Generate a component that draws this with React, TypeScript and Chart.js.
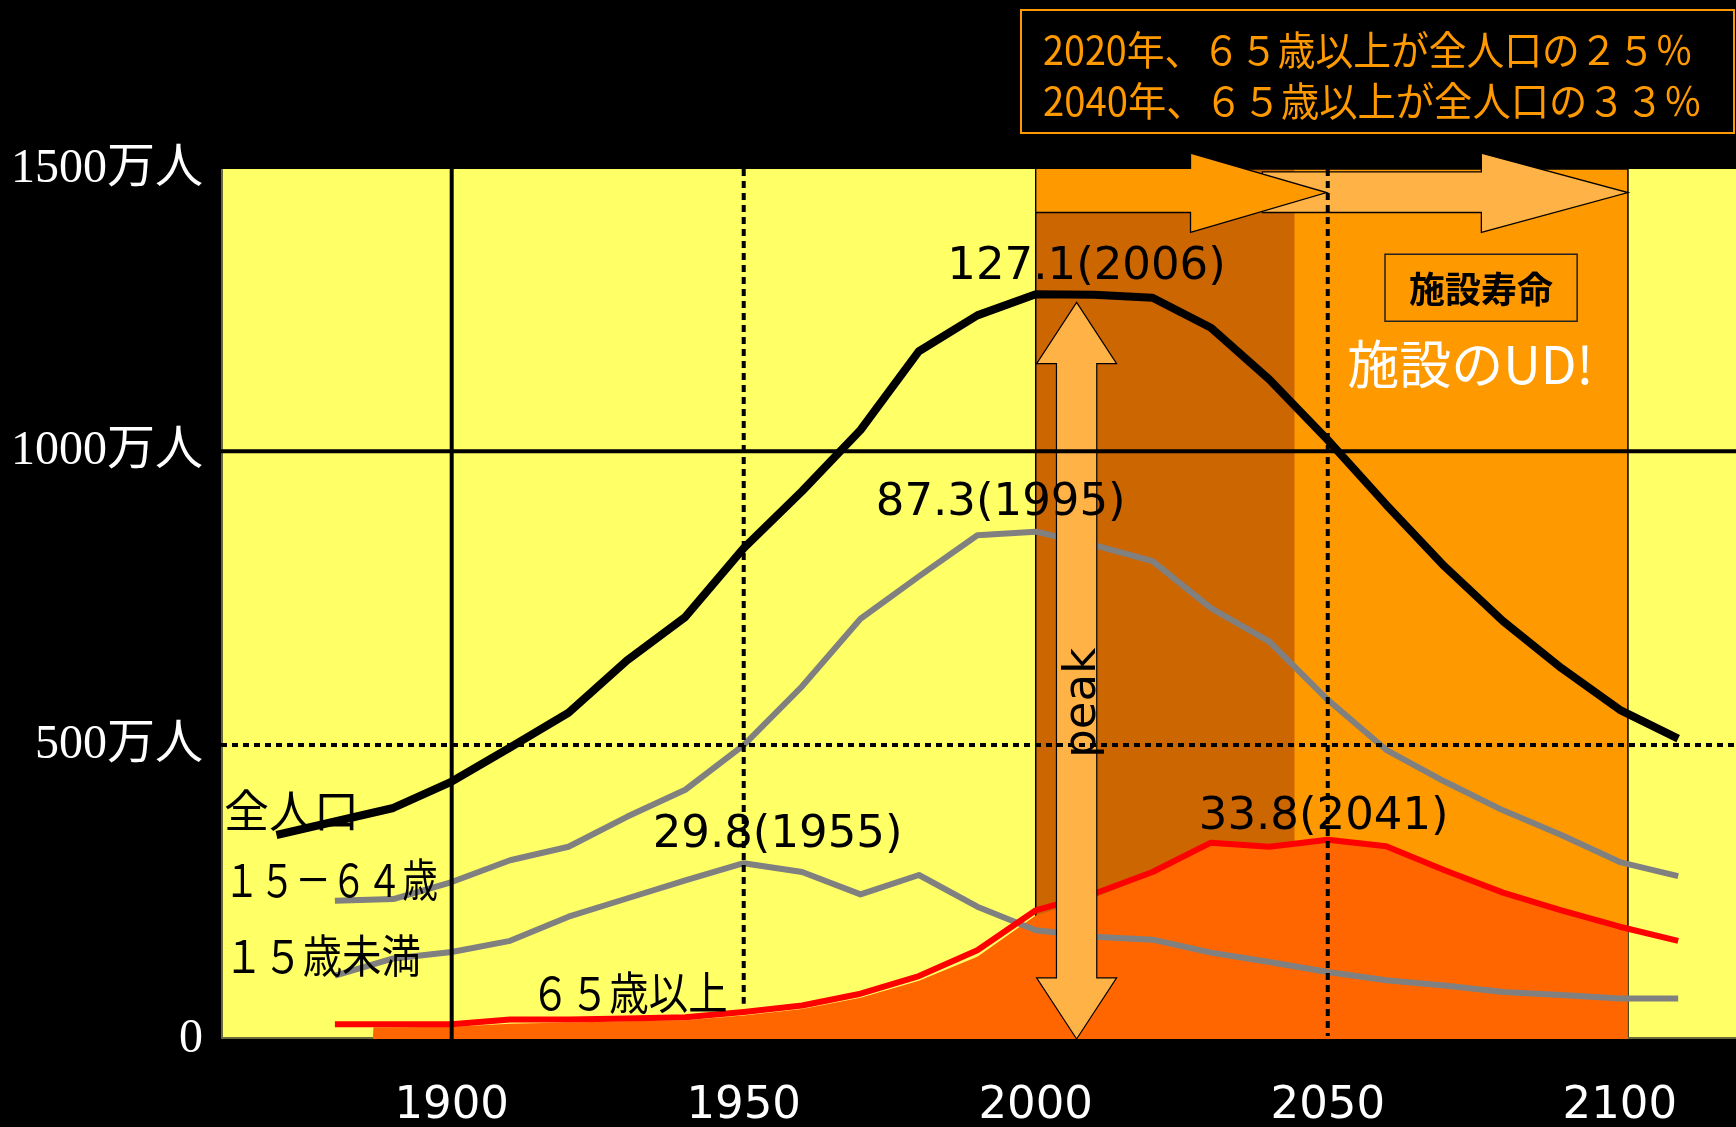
import React, { useEffect, useRef } from "react";
import { Chart, registerables } from "chart.js";

Chart.register(...registerables);

// ---------- data (units: 百万人, axis labels read as 万人 ×10) ----------
const decadeYears = [1880, 1890, 1900, 1910, 1920, 1930, 1940, 1950, 1960, 1970, 1980, 1990, 2000, 2010, 2020, 2030, 2040, 2050, 2060, 2070, 2080, 2090, 2100, 2110];
const totalYears = [1870, 1890, 1900, 1910, 1920, 1930, 1940, 1950, 1960, 1970, 1980, 1990, 2000, 2010, 2020, 2030, 2040, 2050, 2060, 2070, 2080, 2090, 2100, 2110];
const totalPopulation = [34.7, 39.3, 43.8, 49.6, 55.5, 64.4, 71.8, 83.5, 93.2, 103.6, 117.0, 123.1, 126.7, 126.6, 126.1, 121.0, 112.2, 101.9, 90.9, 80.4, 71.1, 63.1, 56.0, 51.1];
const age15to64 = [23.5, 23.8, 26.7, 30.4, 32.7, 37.8, 42.4, 50.0, 60.0, 71.5, 78.7, 85.7, 86.3, 84.0, 81.3, 73.3, 67.6, 57.7, 49.2, 43.8, 38.9, 34.7, 30.1, 27.7];
const ageUnder15 = [10.8, 13.7, 14.8, 16.7, 20.8, 23.9, 27.0, 29.9, 28.4, 24.6, 27.9, 22.5, 18.5, 17.4, 16.9, 14.7, 13.1, 11.4, 10.0, 9.1, 8.0, 7.5, 6.9, 6.9];
const age65plus = [2.5, 2.5, 2.5, 3.3, 3.3, 3.5, 3.7, 4.6, 5.7, 7.7, 10.7, 15.1, 21.9, 24.7, 28.4, 33.4, 32.7, 33.9, 32.8, 28.7, 24.9, 21.9, 19.1, 16.7];
const age65AreaYears = [1886.5, 1886.6, 1890, 1900, 1910, 1920, 1930, 1940, 1950, 1960, 1970, 1980, 1990, 2000, 2010, 2020, 2030, 2040, 2050, 2060, 2070, 2080, 2090, 2100, 2101.4];
const age65Area = [0, 2.0, 2.0, 2.1, 2.6, 2.8, 3.0, 3.2, 4.0, 5.1, 7.0, 9.9, 14.0, 21.0, 24.0, 28.0, 33.0, 32.6, 33.6, 32.6, 28.5, 24.7, 21.7, 18.9, 18.7];

const xTickValues = [1900, 1950, 2000, 2050, 2100];
const yTickValues = [0, 50, 100, 148];
const yTickLabels = ["0", "500万人", "1000万人", "1500万人"];

const X_MIN = 1860.5;
const X_MAX = 2119.9;
const Y_MAX = 148;

// annotations (data coordinates)
const facilityBand = { start: 2000, darkEnd: 2044.3, end: 2101.4 };
const gridH = [
  { value: 100, dashed: false },
  { value: 50, dashed: true },
];
const gridV = [
  { year: 1900, dashed: false, from: 0 },
  { year: 1950, dashed: true, from: 6 },
  { year: 2050, dashed: true, from: 0.5 },
];
const peakArrow = { year: 2007, bodyHalf: 3.45, headHalf: 6.85, top: 125.3, topBase: 114.9, bottomBase: 10.4, bottom: 0 };
const lifeArrows = [
  { from: 2038.8, headBase: 2076.3, tip: 2101.4, bodyTop: 147.5, bodyBottom: 140.6, headTop: 150.7, headBottom: 137.2, mid: 144.0, color: "#FFB347" },
  { from: 2000, headBase: 2026.5, tip: 2049.8, bodyTop: 148.1, bodyBottom: 140.6, headTop: 150.7, headBottom: 137.2, mid: 144.0, color: "#FF9900" },
];
const peakLabels = [
  { text: "127.1(2006)", year: 2008.7, value: 129.3 },
  { text: "87.3(1995)", year: 1994.0, value: 89.1 },
  { text: "29.8(1955)", year: 1955.8, value: 32.7 },
  { text: "33.8(2041)", year: 2049.3, value: 35.8 },
];
const seriesLabels = [
  { text: "全人口", year: 1861, value: 38.8, maxWidth: 140 },
  { text: "１５－６４歳", year: 1861, value: 27.0, maxWidth: 214 },
  { text: "１５歳未満", year: 1861, value: 14.2, maxWidth: 197 },
  { text: "６５歳以上", year: 1913.5, value: 7.9, maxWidth: 197 },
];
const peakText = { text: "peak", year: 2010.1, value: 57.2 };
const lifeBox = { text: "施設寿命", x0: 2059.8, x1: 2092.7, y0: 133.5, y1: 122.1 };
const udText = { text: "施設のUD!", year: 2074.4, value: 114.8 };
const noteLines = ["2020年、６５歳以上が全人口の２５％", "2040年、６５歳以上が全人口の３３％"];

const toXY = (xs: number[], ys: number[]) => xs.map((x, i) => ({ x, y: ys[i] }));

const decorPlugin = {
  id: "decor",
  beforeDraw(chart: any) {
    const { ctx, chartArea: a, scales } = chart;
    const x = scales.x;
    ctx.save();
    ctx.fillStyle = "#000";
    ctx.fillRect(0, 0, chart.width, chart.height);
    ctx.fillStyle = "#FFFF66";
    ctx.fillRect(a.left, a.top, a.right - a.left, a.bottom - a.top);
    const b0 = x.getPixelForValue(facilityBand.start);
    const bd = x.getPixelForValue(facilityBand.darkEnd);
    const b1 = x.getPixelForValue(facilityBand.end);
    ctx.fillStyle = "#FF9900";
    ctx.fillRect(b0, a.top, b1 - b0, a.bottom - a.top);
    ctx.fillStyle = "#CC6600";
    ctx.fillRect(b0, a.top, bd - b0, a.bottom - a.top);
    ctx.strokeStyle = "#000";
    ctx.lineWidth = 1.5;
    ctx.strokeRect(b0, a.top, b1 - b0, a.bottom - a.top);
    ctx.strokeStyle = "#6b6b3a";
    ctx.lineWidth = 2;
    ctx.beginPath();
    ctx.moveTo(a.left + 1, a.top);
    ctx.lineTo(a.left + 1, a.bottom);
    ctx.moveTo(a.left, a.bottom - 1);
    ctx.lineTo(a.right, a.bottom - 1);
    ctx.stroke();
    ctx.restore();
  },
  afterDatasetsDraw(chart: any) {
    const { ctx, chartArea: a, scales } = chart;
    const x = scales.x;
    const y = scales.y;
    const px = (v: number) => x.getPixelForValue(v);
    const py = (v: number) => y.getPixelForValue(v);
    ctx.save();

    // peak double arrow
    {
      const p = peakArrow;
      const cx = px(p.year);
      const hb = px(p.year + p.bodyHalf) - cx;
      const hh = px(p.year + p.headHalf) - cx;
      const yt = py(p.top), ytb = py(p.topBase), ybb = py(p.bottomBase), yb = py(p.bottom);
      ctx.beginPath();
      ctx.moveTo(cx, yt);
      ctx.lineTo(cx + hh, ytb);
      ctx.lineTo(cx + hb, ytb);
      ctx.lineTo(cx + hb, ybb);
      ctx.lineTo(cx + hh, ybb);
      ctx.lineTo(cx, yb);
      ctx.lineTo(cx - hh, ybb);
      ctx.lineTo(cx - hb, ybb);
      ctx.lineTo(cx - hb, ytb);
      ctx.lineTo(cx - hh, ytb);
      ctx.closePath();
      ctx.fillStyle = "#FFB347";
      ctx.fill();
      ctx.strokeStyle = "#000";
      ctx.lineWidth = 1.2;
      ctx.stroke();
    }

    // facility-life arrows
    for (const r of lifeArrows) {
      ctx.beginPath();
      ctx.moveTo(px(r.from), py(r.bodyTop));
      ctx.lineTo(px(r.headBase), py(r.bodyTop));
      ctx.lineTo(px(r.headBase), py(r.headTop));
      ctx.lineTo(px(r.tip), py(r.mid));
      ctx.lineTo(px(r.headBase), py(r.headBottom));
      ctx.lineTo(px(r.headBase), py(r.bodyBottom));
      ctx.lineTo(px(r.from), py(r.bodyBottom));
      ctx.closePath();
      ctx.fillStyle = r.color;
      ctx.fill();
      ctx.strokeStyle = "#000";
      ctx.lineWidth = 1.3;
      ctx.stroke();
    }

    // grid lines
    ctx.strokeStyle = "#000";
    ctx.lineWidth = 4;
    for (const g of gridH) {
      ctx.setLineDash(g.dashed ? [6, 5] : []);
      ctx.beginPath();
      ctx.moveTo(a.left, py(g.value));
      ctx.lineTo(a.right, py(g.value));
      ctx.stroke();
    }
    for (const g of gridV) {
      ctx.setLineDash(g.dashed ? [7, 5] : []);
      ctx.beginPath();
      ctx.moveTo(px(g.year), a.top);
      ctx.lineTo(px(g.year), py(g.from));
      ctx.stroke();
    }
    ctx.setLineDash([]);

    // value labels
    ctx.fillStyle = "#000";
    ctx.font = "45px 'DejaVu Sans'";
    ctx.textAlign = "center";
    ctx.textBaseline = "alphabetic";
    for (const l of peakLabels) ctx.fillText(l.text, px(l.year), py(l.value));

    // series labels
    ctx.font = "45px 'Noto Sans CJK JP'";
    ctx.textAlign = "left";
    ctx.textBaseline = "middle";
    for (const l of seriesLabels) ctx.fillText(l.text, px(l.year), py(l.value), l.maxWidth);

    // peak text
    ctx.save();
    ctx.translate(px(peakText.year), py(peakText.value));
    ctx.rotate(-Math.PI / 2);
    ctx.font = "45px 'DejaVu Sans'";
    ctx.textAlign = "center";
    ctx.textBaseline = "alphabetic";
    ctx.fillText(peakText.text, 0, 0);
    ctx.restore();

    // facility life box
    {
      const x0 = px(lifeBox.x0), x1 = px(lifeBox.x1), y0 = py(lifeBox.y0), y1 = py(lifeBox.y1);
      ctx.strokeStyle = "#222";
      ctx.lineWidth = 1.5;
      ctx.strokeRect(x0, y0, x1 - x0, y1 - y0);
      ctx.fillStyle = "#000";
      ctx.font = "bold 36px 'Noto Sans CJK JP'";
      ctx.textAlign = "center";
      ctx.textBaseline = "middle";
      ctx.fillText(lifeBox.text, (x0 + x1) / 2, (y0 + y1) / 2 + 2);
    }
    ctx.fillStyle = "#FFFFFF";
    ctx.font = "52px 'Noto Sans CJK JP'";
    ctx.textAlign = "center";
    ctx.textBaseline = "middle";
    ctx.fillText(udText.text, px(udText.year), py(udText.value));

    // top note box
    ctx.strokeStyle = "#FF9900";
    ctx.lineWidth = 2;
    ctx.strokeRect(1021, 10, 713, 123);
    ctx.fillStyle = "#FF9900";
    ctx.font = "40px 'Noto Sans CJK JP'";
    ctx.textAlign = "left";
    ctx.textBaseline = "middle";
    ctx.fillText(noteLines[0], 1043, 50, 650);
    ctx.fillText(noteLines[1], 1043, 101, 659);

    ctx.restore();
  },
};

export default function App() {
  const ref = useRef<HTMLCanvasElement>(null);
  useEffect(() => {
    document.body.style.margin = "0";
    document.body.style.background = "#000";
    const chart = new Chart(ref.current as HTMLCanvasElement, {
      type: "line",
      data: {
        datasets: [
          { label: "全人口", data: toXY(totalYears, totalPopulation), borderColor: "#000000", borderWidth: 8, order: 2 },
          { label: "15-64歳", data: toXY(decadeYears, age15to64), borderColor: "#808080", borderWidth: 6, order: 4 },
          { label: "15歳未満", data: toXY(decadeYears, ageUnder15), borderColor: "#808080", borderWidth: 6, order: 3 },
          { label: "65歳以上", data: toXY(decadeYears, age65plus), borderColor: "#FF0000", borderWidth: 6, order: 1 },
          {
            label: "65歳以上(面)",
            data: toXY(age65AreaYears, age65Area),
            borderColor: "rgba(0,0,0,0)",
            borderWidth: 0,
            backgroundColor: "#FF6600",
            fill: "origin",
            order: 10,
          },
        ] as any,
      },
      options: {
        responsive: false,
        animation: false,
        devicePixelRatio: 1,
        layout: { padding: { top: 169, left: 0, right: 0, bottom: 0 } },
        elements: {
          point: { radius: 0, hoverRadius: 0 },
          line: { tension: 0, borderJoinStyle: "round", borderCapStyle: "butt", fill: false },
        },
        plugins: { legend: { display: false }, tooltip: { enabled: false } },
        scales: {
          x: {
            type: "linear",
            min: X_MIN,
            max: X_MAX,
            grid: { display: false, drawTicks: false },
            border: { display: false },
            afterFit: (s: any) => {
              s.height = 88;
            },
            afterBuildTicks: (s: any) => {
              s.ticks = xTickValues.map((v) => ({ value: v }));
            },
            ticks: {
              padding: 40,
              color: "#FFFFFF",
              font: { family: "'DejaVu Sans'", size: 45 },
              maxRotation: 0,
              autoSkip: false,
              callback: (v: any) => String(v),
            },
          },
          y: {
            type: "linear",
            min: 0,
            max: Y_MAX,
            grid: { display: false, drawTicks: false },
            border: { display: false },
            afterFit: (s: any) => {
              s.width = 221;
            },
            afterBuildTicks: (s: any) => {
              s.ticks = yTickValues.map((v) => ({ value: v }));
            },
            ticks: {
              padding: 18,
              color: "#FFFFFF",
              font: { family: "'Liberation Serif', 'Noto Sans CJK JP', serif", size: 48 },
              autoSkip: false,
              callback: (v: any) => {
                const i = yTickValues.indexOf(Number(v));
                return i >= 0 ? yTickLabels[i] : "";
              },
            },
          },
        },
      } as any,
      plugins: [decorPlugin],
    });
    return () => chart.destroy();
  }, []);
  return (
    <div style={{ width: 1736, height: 1127, background: "#000" }}>
      <canvas ref={ref} width={1736} height={1127} style={{ display: "block" }} />
    </div>
  );
}
